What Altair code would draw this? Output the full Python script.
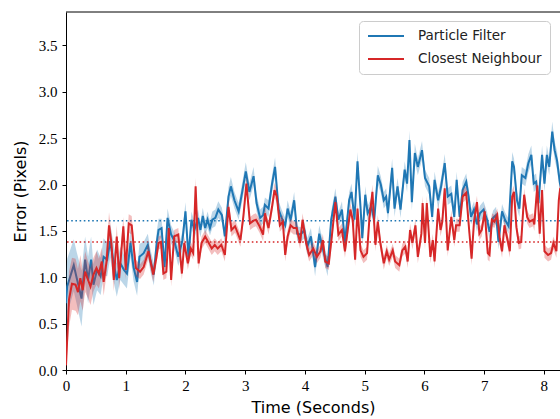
import altair as alt
import pandas as pd

# ---- data ----
PF_T = [0.00,0.02,0.13,0.18,0.26,0.32,0.37,0.42,0.46,0.52,
        0.58,0.63,0.69,0.74,0.80,0.85,0.91,0.97,1.02,1.08,
        1.13,1.19,1.23,1.30,1.37,1.41,1.47,1.52,1.55,1.60,
        1.65,1.70,1.76,1.81,1.88,1.95,2.00,2.05,2.10,2.15,
        2.21,2.25,2.29,2.33,2.37,2.41,2.45,2.50,2.55,2.61,
        2.66,2.72,2.76,2.82,2.89,2.95,3.01,3.07,3.14,3.19,
        3.25,3.30,3.33,3.39,3.45,3.50,3.56,3.61,3.67,3.71,
        3.76,3.82,3.87,3.93,3.99,4.04,4.10,4.17,4.24,4.31,
        4.38,4.44,4.51,4.56,4.62,4.67,4.74,4.78,4.83,4.88,
        4.93,4.96,5.01,5.05,5.11,5.16,5.22,5.27,5.32,5.36,
        5.39,5.46,5.50,5.55,5.60,5.67,5.71,5.75,5.79,5.84,
        5.89,5.96,6.01,6.08,6.13,6.17,6.23,6.28,6.34,6.39,
        6.45,6.50,6.54,6.59,6.64,6.70,6.74,6.78,6.83,6.88,
        6.93,6.99,7.05,7.09,7.15,7.20,7.24,7.30,7.35,7.41,
        7.47,7.50,7.55,7.59,7.63,7.69,7.74,7.79,7.83,7.87,
        7.91,7.97,8.01,8.05,8.09,8.14,8.18,8.22,8.27,8.32]
PF_V = [0.72,0.90,1.13,0.99,0.77,1.19,0.97,1.19,0.92,1.08,
        1.01,1.22,1.19,1.39,1.15,0.97,1.15,1.08,1.04,1.37,
        1.11,0.95,1.22,1.26,1.35,1.19,1.03,1.38,1.51,1.53,
        1.11,1.64,1.46,1.40,1.22,1.40,1.71,1.22,1.62,1.51,
        1.64,1.51,1.66,1.53,1.62,1.53,1.62,1.64,1.73,1.67,
        1.44,1.87,1.98,1.83,1.71,1.92,2.14,1.92,2.09,1.80,
        1.64,1.67,1.78,1.74,2.01,2.19,1.73,1.64,1.56,1.74,
        1.62,1.83,1.47,1.46,1.51,1.33,1.44,1.11,1.47,1.28,
        1.11,1.62,1.87,1.62,1.73,1.37,1.83,1.92,1.62,2.25,
        1.76,1.42,1.89,1.69,1.76,1.62,2.10,2.00,1.83,1.87,
        1.69,2.18,1.74,1.98,1.73,2.16,2.01,2.48,1.81,2.34,
        2.19,2.37,2.07,1.98,1.65,2.05,1.83,1.98,2.23,1.87,
        1.90,1.65,2.05,1.65,1.94,2.03,1.87,1.65,1.73,1.57,
        1.69,1.73,1.62,1.49,1.64,1.67,1.38,1.71,1.62,1.55,
        2.25,2.19,1.83,1.74,2.10,2.07,2.23,2.32,2.01,2.03,
        1.80,2.32,2.01,2.32,2.19,2.57,2.37,2.26,2.01,1.90]
PF_S = [0.30,0.30,0.28,0.28,0.30,0.25,0.25,0.25,0.22,0.22,
        0.20,0.20,0.18,0.18,0.20,0.18,0.18,0.16,0.16,0.15,
        0.15,0.15,0.14,0.12,0.12,0.12,0.12,0.12,0.12,0.10,
        0.10,0.10,0.10,0.09,0.10,0.10,0.10,0.09,0.09,0.09,
        0.09,0.08,0.09,0.08,0.09,0.08,0.09,0.09,0.09,0.08,
        0.09,0.10,0.10,0.09,0.09,0.10,0.10,0.09,0.10,0.09,
        0.09,0.09,0.08,0.09,0.09,0.10,0.09,0.09,0.08,0.09,
        0.09,0.09,0.08,0.08,0.09,0.09,0.09,0.10,0.09,0.09,
        0.10,0.09,0.09,0.08,0.09,0.08,0.09,0.09,0.08,0.10,
        0.09,0.08,0.09,0.08,0.09,0.08,0.10,0.09,0.09,0.09,
        0.09,0.10,0.09,0.09,0.09,0.09,0.09,0.10,0.09,0.10,
        0.09,0.10,0.09,0.09,0.08,0.09,0.09,0.09,0.10,0.09,
        0.09,0.08,0.09,0.08,0.09,0.09,0.09,0.08,0.09,0.08,
        0.08,0.09,0.08,0.08,0.08,0.09,0.08,0.08,0.08,0.08,
        0.10,0.09,0.09,0.09,0.09,0.09,0.10,0.10,0.09,0.09,
        0.09,0.10,0.09,0.10,0.09,0.11,0.10,0.10,0.09,0.09]

CN_T = [0.00,0.05,0.10,0.16,0.20,0.24,0.28,0.32,0.37,0.41,
        0.46,0.51,0.55,0.60,0.63,0.68,0.72,0.76,0.80,0.85,
        0.89,0.96,1.00,1.05,1.10,1.13,1.17,1.24,1.30,1.38,
        1.46,1.51,1.55,1.59,1.63,1.68,1.72,1.76,1.81,1.88,
        1.94,1.98,2.04,2.09,2.13,2.17,2.22,2.27,2.33,2.39,
        2.44,2.49,2.54,2.60,2.66,2.72,2.77,2.83,2.92,2.97,
        3.02,3.08,3.14,3.18,3.24,3.30,3.33,3.39,3.45,3.49,
        3.53,3.58,3.63,3.67,3.71,3.76,3.81,3.86,3.92,3.96,
        4.02,4.07,4.14,4.20,4.26,4.30,4.34,4.40,4.45,4.51,
        4.56,4.62,4.67,4.76,4.80,4.84,4.88,4.93,4.98,5.04,
        5.08,5.13,5.18,5.22,5.26,5.32,5.37,5.41,5.47,5.51,
        5.58,5.63,5.68,5.72,5.76,5.80,5.85,5.89,5.95,5.97,
        6.01,6.04,6.10,6.14,6.17,6.23,6.27,6.30,6.34,6.39,
        6.45,6.50,6.53,6.59,6.64,6.70,6.74,6.79,6.83,6.88,
        6.92,6.96,7.01,7.06,7.09,7.13,7.17,7.22,7.26,7.30,
        7.34,7.38,7.43,7.47,7.50,7.54,7.58,7.62,7.67,7.72,
        7.76,7.82,7.84,7.89,7.93,7.97,8.01,8.07,8.12,8.16,
        8.21,8.25,8.27,8.32]
CN_V = [0.05,0.76,0.93,0.92,0.84,0.99,0.86,1.06,0.97,0.90,
        1.03,1.10,1.04,1.17,0.95,1.17,1.56,1.37,0.97,1.44,
        0.99,1.55,1.08,1.58,1.56,1.35,1.10,1.06,1.11,1.28,
        1.03,1.20,1.37,1.38,1.04,1.06,1.53,0.97,1.44,1.46,
        1.04,1.37,1.15,1.31,1.26,1.98,1.15,1.37,1.44,1.37,
        1.31,1.35,1.31,1.35,1.24,1.76,1.51,1.55,1.40,1.66,
        2.01,1.58,1.61,1.62,1.55,1.46,1.69,1.53,1.76,1.94,
        1.87,1.56,1.60,1.24,1.44,1.56,1.53,1.53,1.37,1.62,
        1.37,1.24,1.31,1.22,1.28,1.40,1.17,1.15,1.44,1.81,
        1.46,1.51,1.28,1.73,1.62,1.19,1.74,1.29,1.22,1.26,
        1.64,1.92,1.35,1.60,1.38,1.15,1.28,1.19,1.29,1.17,
        1.13,1.29,1.33,1.17,1.51,1.37,1.56,1.22,1.47,1.80,
        1.37,1.80,1.22,1.40,1.17,1.74,1.51,1.60,1.96,1.29,
        1.65,1.40,1.56,1.56,1.87,1.91,1.58,1.20,1.60,1.81,
        1.47,1.51,1.71,1.26,1.24,1.62,1.60,1.67,1.42,1.28,
        1.56,1.44,1.28,1.87,1.92,1.54,1.37,1.38,1.89,1.65,
        1.60,1.62,1.57,1.99,1.47,1.94,1.28,1.24,1.26,1.37,
        1.28,1.83,1.94,1.90]
CN_S = [0.05,0.30,0.28,0.28,0.25,0.25,0.22,0.22,0.20,0.20,
        0.18,0.18,0.16,0.15,0.15,0.14,0.14,0.12,0.12,0.12,
        0.12,0.10,0.10,0.10,0.10,0.09,0.09,0.08,0.08,0.08,
        0.08,0.08,0.07,0.07,0.07,0.07,0.08,0.07,0.07,0.07,
        0.07,0.07,0.07,0.07,0.07,0.09,0.07,0.07,0.07,0.07,
        0.07,0.07,0.07,0.07,0.07,0.08,0.07,0.07,0.07,0.07,
        0.08,0.07,0.07,0.07,0.07,0.07,0.07,0.07,0.07,0.08,
        0.07,0.07,0.07,0.07,0.07,0.07,0.07,0.07,0.07,0.07,
        0.07,0.07,0.07,0.07,0.07,0.07,0.07,0.07,0.07,0.08,
        0.07,0.07,0.07,0.07,0.07,0.07,0.07,0.07,0.07,0.07,
        0.07,0.08,0.07,0.07,0.07,0.07,0.07,0.07,0.07,0.07,
        0.07,0.07,0.07,0.07,0.07,0.07,0.07,0.07,0.07,0.08,
        0.07,0.08,0.07,0.07,0.07,0.07,0.07,0.07,0.08,0.07,
        0.07,0.07,0.07,0.07,0.07,0.07,0.07,0.07,0.07,0.07,
        0.07,0.07,0.07,0.07,0.07,0.07,0.07,0.07,0.07,0.07,
        0.07,0.07,0.07,0.07,0.07,0.07,0.07,0.07,0.07,0.07,
        0.07,0.07,0.07,0.08,0.07,0.07,0.07,0.07,0.07,0.07,
        0.07,0.08,0.08,0.08]

PF_MEAN = 1.61
CN_MEAN = 1.38
SERIES = ["Particle Filter", "Closest Neighbour"]
COLORS = ["#1f77b4", "#d62728"]
X_TICKS = [0, 1, 2, 3, 4, 5, 6, 7, 8]
Y_TICKS = [0.0, 0.5, 1.0, 1.5, 2.0, 2.5, 3.0, 3.5]
X_MAX = 8.27
Y_MAX = 3.86

pf = pd.DataFrame({"t": PF_T, "v": PF_V,
                   "lo": [v - s for v, s in zip(PF_V, PF_S)],
                   "hi": [v + s for v, s in zip(PF_V, PF_S)],
                   "series": SERIES[0]})
cn = pd.DataFrame({"t": CN_T, "v": CN_V,
                   "lo": [v - s for v, s in zip(CN_V, CN_S)],
                   "hi": [v + s for v, s in zip(CN_V, CN_S)],
                   "series": SERIES[1]})

SERIF = "Liberation Serif"
SANS = "DejaVu Sans"

xscale = alt.Scale(domain=[0, X_MAX], nice=False, zero=False)
yscale = alt.Scale(domain=[0, Y_MAX], nice=False)

xaxis = alt.Axis(values=X_TICKS, format="d", title="Time (Seconds)",
                 labelFont=SERIF, labelFontSize=15, labelColor="#000",
                 titleFont=SANS, titleFontSize=16, titleFontWeight="normal",
                 titleColor="#000", titleBaseline="middle", titleY=37,
                 tickSize=4, labelPadding=4, grid=False, domainColor="#000",
                 tickColor="#000", labelFlush=False)
yaxis = alt.Axis(values=Y_TICKS, format=".1f", title="Error (Pixels)",
                 labelFont=SERIF, labelFontSize=15, labelColor="#000",
                 titleFont=SANS, titleFontSize=16, titleFontWeight="normal",
                 titleColor="#000", titleBaseline="middle", titleX=-46,
                 tickSize=4, labelPadding=5, grid=False, domainColor="#000",
                 tickColor="#000")

X = alt.X("t:Q", scale=xscale, axis=xaxis)
Y = alt.Y("v:Q", scale=yscale, axis=yaxis)

color = alt.Color("series:N",
                  scale=alt.Scale(domain=SERIES, range=COLORS),
                  legend=alt.Legend(title=None, orient="none", legendX=293, legendY=9,
                                    symbolType="M-1,0H5", symbolStrokeWidth=2,
                                    symbolSize=144, labelFont=SANS, labelFontSize=13.5,
                                    labelColor="#222", labelOffset=37, padding=8,
                                    rowPadding=9, cornerRadius=4,
                                    strokeColor="#cccccc", fillColor="white"))


def mean_rule(val, c):
    return alt.Chart(pd.DataFrame({"m": [val]})).mark_rule(
        strokeWidth=1.6, strokeDash=[1.6, 2.6], color=c).encode(
        y=alt.Y("m:Q", scale=yscale, axis=yaxis))


def band(df, c):
    return alt.Chart(df).mark_area(clip=True, color=c, opacity=0.3).encode(
        x=X, y=alt.Y("lo:Q", scale=yscale, axis=yaxis), y2="hi:Q")


def line(df):
    return alt.Chart(df).mark_line(clip=True, strokeWidth=2).encode(x=X, y=Y, color=color)


spine = alt.Chart(pd.DataFrame({"top": [Y_MAX]})).mark_rule(color="#000", strokeWidth=1).encode(
    y=alt.Y("top:Q", scale=yscale, axis=yaxis))

chart = alt.layer(
    mean_rule(PF_MEAN, COLORS[0]), mean_rule(CN_MEAN, COLORS[1]),
    band(pf, COLORS[0]), line(pf), band(cn, COLORS[1]), line(cn), spine
).properties(
    width=494, height=358,
    autosize=alt.AutoSizeParams(type="none"),
    padding={"left": 66, "top": 12, "right": 0, "bottom": 49},
).configure_view(stroke=None)

chart.save("out.html", embed_options={"renderer": "svg", "actions": False})
